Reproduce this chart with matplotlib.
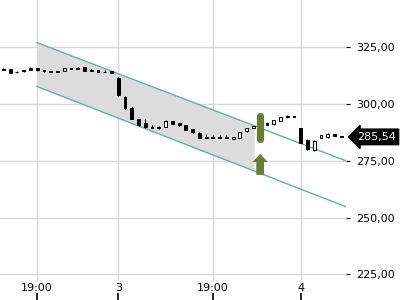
import numpy as np
import matplotlib
matplotlib.use("Agg")
import matplotlib.pyplot as plt
from matplotlib.ticker import FuncFormatter

# candle data (index based x axis)
opens = [315.4, 315.3, 314.3, 315.0, 315.8, 315.9, 314.8, 314.6, 314.6, 314.7,
         315.4, 315.7, 316.2, 315.2, 314.9, 314.3, 314.4, 311.4, 303.3, 298.4,
         293.3, 291.5, 290.1, 289.9, 290.1, 292.6, 291.5, 290.8, 288.9, 287.4,
         285.6, 285.5, 285.5, 285.5, 284.6, 285.1, 288.0, 289.4, 290.9, 291.5,
         291.0, 292.7, 294.9, 294.6, 289.4, 284.2, 279.9, 285.1, 285.6, 286.8,
         285.7]
highs = [315.7, 315.4, 314.6, 315.2, 316.1, 316.0, 315.0, 314.7, 314.7, 316.0,
         315.5, 316.2, 316.3, 315.3, 315.0, 314.8, 314.5, 312.1, 303.5, 298.5,
         293.5, 293.5, 290.8, 290.2, 292.9, 292.7, 291.6, 290.9, 289.0, 287.5,
         286.6, 286.4, 286.2, 286.3, 285.7, 287.9, 289.6, 290.5, 291.0, 291.6,
         293.1, 294.3, 295.3, 294.6, 289.6, 284.6, 284.2, 286.5, 287.3, 286.9,
         285.8]
lows = [315.2, 313.7, 313.8, 314.3, 315.1, 314.7, 314.3, 314.2, 314.2, 314.6,
        315.3, 315.3, 314.6, 314.4, 314.1, 313.9, 313.5, 303.7, 298.0, 293.2,
        290.4, 289.3, 289.3, 289.2, 290.0, 291.0, 290.4, 288.5, 287.4, 284.9,
        285.0, 285.0, 285.0, 285.0, 284.5, 285.0, 287.9, 289.3, 290.0, 290.6,
        290.9, 292.6, 294.0, 294.4, 282.7, 279.6, 279.2, 285.0, 285.0, 286.0,
        285.5]
closes = [315.2, 313.8, 313.9, 314.4, 315.2, 314.8, 314.4, 314.3, 314.3, 315.9,
          315.3, 315.4, 314.7, 314.5, 314.2, 313.9, 313.6, 304.0, 298.2, 293.3,
          290.8, 289.8, 289.4, 289.5, 292.7, 291.1, 290.8, 288.6, 287.6, 285.0,
          285.0, 285.0, 285.0, 285.0, 285.6, 287.8, 289.5, 290.4, 290.2, 290.8,
          293.0, 294.2, 294.1, 294.4, 282.8, 280.1, 283.8, 286.3, 286.6, 286.1,
          285.54]

tick_pos = [5, 17, 31, 44]
tick_labels = ["19:00", "3", "19:00", "4"]
y_ticks = [225, 250, 275, 300, 325]

# trend channel
chan_x = [5, 50.7]
chan_upper = [327.0, 275.0]
chan_lower = [307.7, 254.8]
shade_end = 37.1

# signal marker at candle 38
sig_x = 38
pill_lo, pill_hi = 284.6, 294.8
arrow_lo, arrow_hi = 268.8, 278.0
last_price = 285.54

green = "#6b7c3a"
teal = "#6aaab0"

fig = plt.figure(figsize=(4, 3), dpi=100)
ax = fig.add_axes([0, 19 / 300, 346 / 400, 281 / 300])

ax.set_xlim(-0.5, 50.7)
ax.set_ylim(222.1, 345.8)

# channel shading + lines
cx = np.array(chan_x)
up = np.array(chan_upper)
lo = np.array(chan_lower)
xs = np.linspace(chan_x[0], shade_end, 50)
ax.fill_between(xs, np.interp(xs, cx, lo), np.interp(xs, cx, up),
                color="#dcdcdc", lw=0, zorder=1)
ax.plot(cx, up, color=teal, lw=1, zorder=2)
ax.plot(cx, lo, color=teal, lw=1, zorder=2)

# candles
idx = np.arange(len(opens))
o = np.array(opens)
c = np.array(closes)
ax.vlines(idx, lows, highs, color="black", lw=0.8, zorder=3)
bottoms = np.minimum(o, c)
heights = np.maximum(np.abs(c - o), 0.35)
face = ["white" if cc > oo else "black" for oo, cc in zip(o, c)]
ax.bar(idx, heights, bottom=bottoms, width=0.42, color=face,
       edgecolor="black", lw=0.7, zorder=4)

# signal marker
ax.plot([sig_x, sig_x], [pill_lo, pill_hi], color=green, lw=5.2,
        solid_capstyle="round", zorder=5)
ax.arrow(sig_x, arrow_lo, 0, arrow_hi - arrow_lo, width=1.15, head_width=2.3,
         head_length=3.5, length_includes_head=True, color=green, lw=0,
         zorder=5)

# axes styling
for s in ax.spines.values():
    s.set_visible(False)
ax.set_xticks(tick_pos)
ax.set_xticklabels(tick_labels)
ax.set_yticks(y_ticks)
ax.yaxis.tick_right()
ax.yaxis.set_major_formatter(FuncFormatter(lambda v, p: f"{v:.2f}".replace(".", ",")))
ax.grid(True, color="#d9d9d9", lw=1)
ax.set_axisbelow(True)
ax.tick_params(axis="x", length=0, pad=1.5, labelsize=8)
ax.tick_params(axis="y", length=3, width=0.8, pad=4, labelsize=8, direction="out")

# thin strip axes at the very bottom just for the x tick marks
tax = fig.add_axes([0, 0, 346 / 400, 7 / 300], sharex=ax)
tax.set_ylim(0, 1)
tax.vlines(tick_pos, 0, 1, color="black", lw=1.2)
tax.axis("off")

# last price tag
ax.text(1.0 + 11 / 346, last_price, f"{last_price:.2f}".replace(".", ","),
        transform=ax.get_yaxis_transform(), ha="left", va="center",
        fontsize=8, color="white", zorder=10,
        bbox=dict(boxstyle="larrow,pad=0.25", fc="black", ec="black"))

fig.savefig("out.png", dpi=100)
